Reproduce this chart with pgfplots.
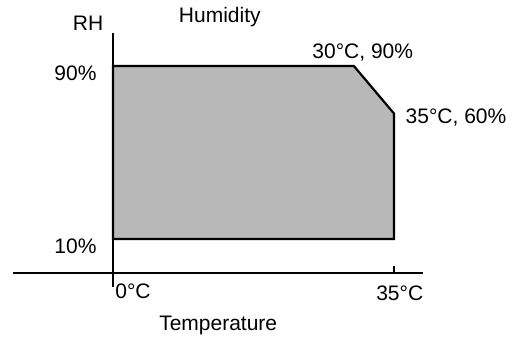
\documentclass[border=0pt]{standalone}
\usepackage{pgfplots}
\pgfplotsset{compat=1.18}
\usepackage{fontspec}
\setmainfont{Liberation Sans}
\begin{document}
\fontsize{10.5}{12}\selectfont
\begin{tikzpicture}
\begin{axis}[
  scale only axis,
  width=205pt, height=127pt,
  xmin=-12.45, xmax=38.6,
  ymin=-12.2, ymax=105.3,
  axis lines=none,
  clip=false,
  ticks=none,
]
\coordinate (O) at (rel axis cs:0,0);
% operating region
\addplot[draw=black, line width=1.1pt, fill=black!28]
  coordinates {(0,10) (0,90) (30,90) (35,68) (35,10)} -- cycle;
% axes
\draw[line width=0.8pt] (axis cs:-12.45,-5.7) -- (axis cs:38.6,-5.7);
\draw[line width=0.8pt] (axis cs:0,-12.2) -- (axis cs:0,105.3);
\draw[line width=0.6pt] (axis cs:35,-5.7) -- (axis cs:35,-2.5);
% labels
\node at (axis cs:-3.1,109.9) {RH};
\node at (axis cs:13.3,112.7) {Humidity};
\node[anchor=east, inner sep=0pt] at (axis cs:-2.0,86.8) {90\%};
\node[anchor=east, inner sep=0pt] at (axis cs:-2.0,6.8) {10\%};
\node at (axis cs:31.1,96.5) {30°C, 90\%};
\node[anchor=west, inner sep=0pt] at (axis cs:36.4,66) {35°C, 60\%};
\node[anchor=west, inner sep=0pt] at (axis cs:0.25,-14.0) {0°C};
\node at (axis cs:35.7,-15) {35°C};
\node at (axis cs:13.1,-29.8) {Temperature};
\end{axis}
\pgfresetboundingbox
\path (O) ++(-6.5pt,-26pt) rectangle ++(261pt,169.5pt);
\end{tikzpicture}
\end{document}
